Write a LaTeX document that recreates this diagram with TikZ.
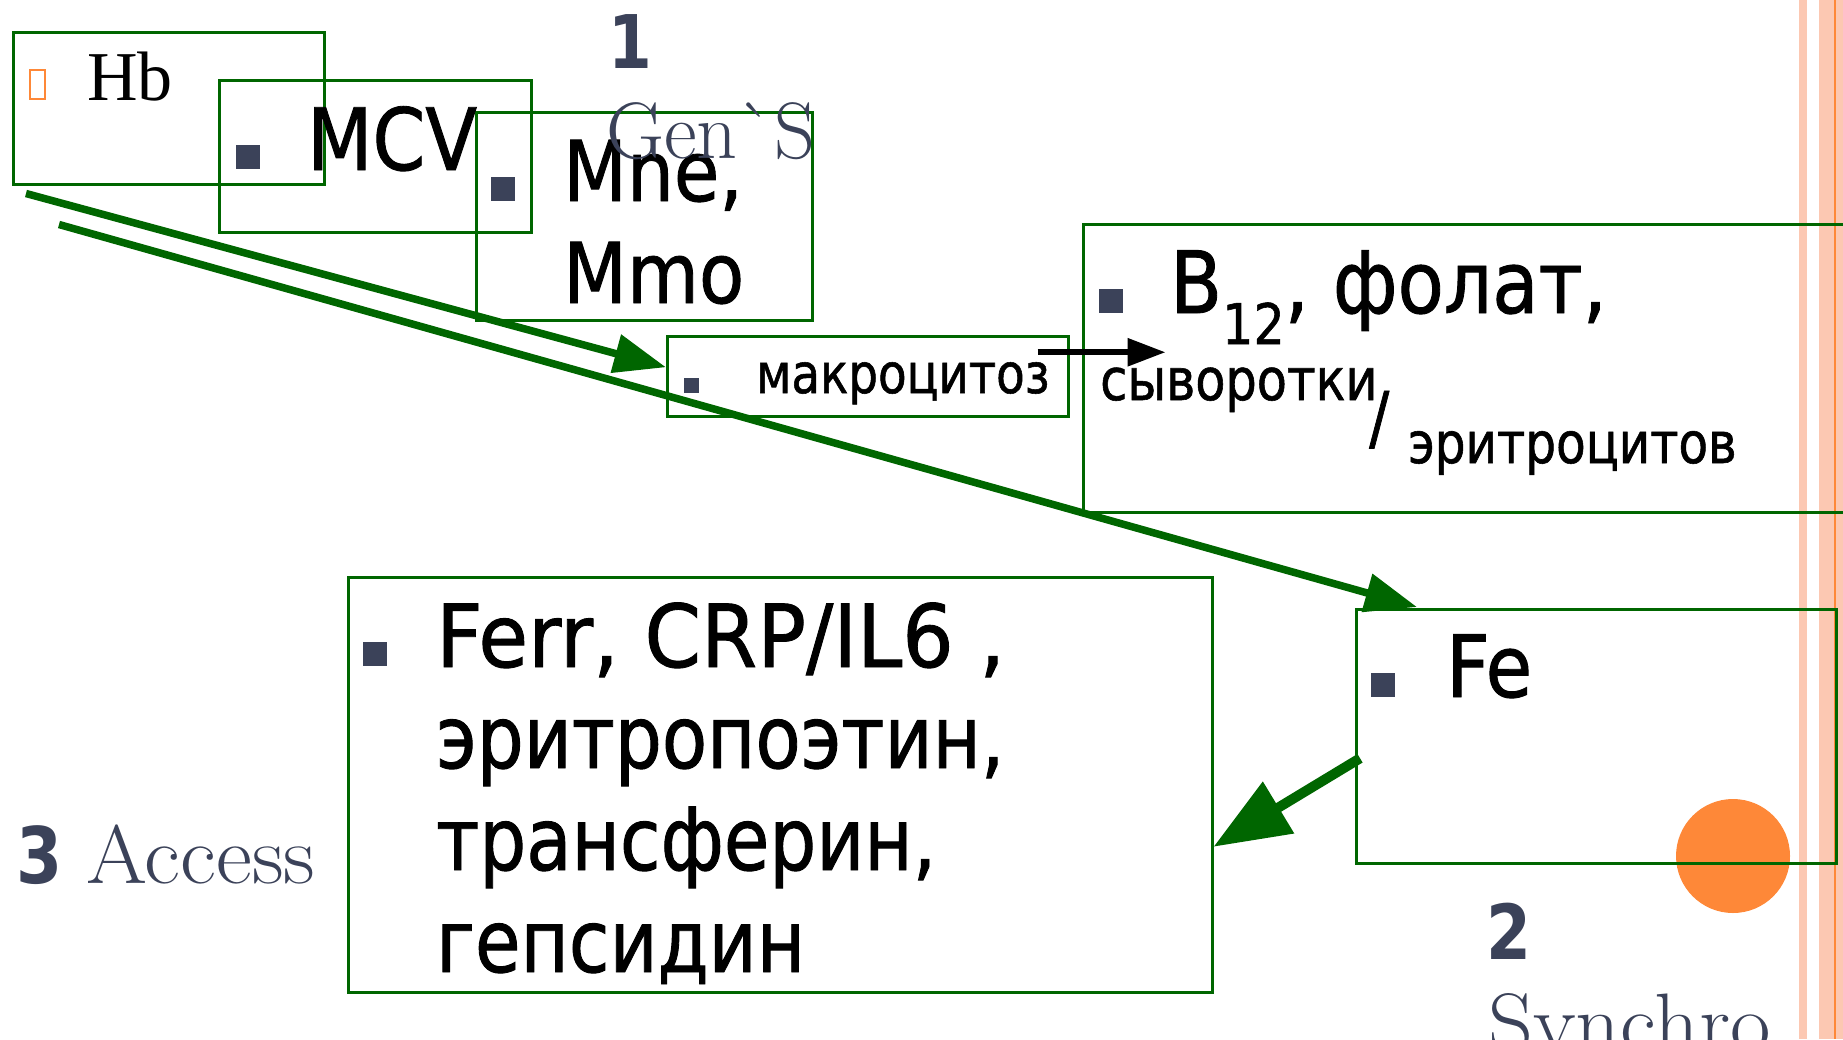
\documentclass[tikz,border=0pt]{standalone}
\usepackage{fontspec}
\usetikzlibrary{arrows.meta,calc}
\newfontfamily\tah[FakeStretch=0.85,FakeBold=1]{DejaVu Sans}
\newfontfamily\tahl[FakeStretch=0.88,FakeBold=1]{DejaVu Sans}
\newfontfamily\tahw[FakeStretch=0.93,FakeBold=1]{DejaVu Sans}
\newfontfamily\tahb[FakeStretch=0.85]{DejaVu Sans Bold}
\newfontfamily\tms{Liberation Serif}
\newfontfamily\lmr{Latin Modern Roman}
\newfontfamily\lmrw[FakeStretch=1.06]{Latin Modern Roman}
\newcommand\fsz[1]{\fontsize{#1}{#1}\selectfont}
\definecolor{boxgreen}{RGB}{0,102,0}
\definecolor{navy}{RGB}{59,66,89}
\definecolor{salmon}{RGB}{252,200,178}
\definecolor{orng}{RGB}{254,136,56}
\tikzset{
  box/.style={draw=boxgreen, line width=2.5pt, inner sep=0pt, anchor=north west},
  bul/.style={fill=navy, inner sep=0pt, anchor=north west, minimum width=24pt, minimum height=24pt},
  txt/.style={inner sep=0pt, anchor=base west, text=black},
  lbl/.style={inner sep=0pt, anchor=base west, text=navy},
  garrow/.style={draw=boxgreen, line width=7.5pt, -{Triangle[length=52pt,width=38pt]}},
  garrowbig/.style={draw=boxgreen, line width=10pt, -{Triangle[length=76pt,width=58pt]}},
  barrow/.style={draw=black, line width=6pt, -{Triangle[length=38pt,width=27pt]}},
}
\begin{document}
\begin{tikzpicture}[x=1pt,y=-1pt]
\useasboundingbox (0,0) rectangle (1843,1039);
\clip (0,0) rectangle (1843,1039);
% right-hand stripes
\fill[salmon] (1799,0) rectangle (1807,1039);
\fill[salmon] (1819,0) rectangle (1843,1039);
\fill[orng] (1833.5,0) rectangle (1836,1039);
% orange dot
\node[circle, fill=orng, minimum size=114pt, inner sep=0pt] (dot) at (1733,856) {};

% boxes
\node[box, minimum width=311pt, minimum height=152pt] (hb) at (12,31) {};
\node[box, minimum width=312pt, minimum height=152pt] (mcv) at (218,79) {};
\node[box, minimum width=336pt, minimum height=208pt] (mne) at (475,111) {};
\node[box, minimum width=401pt, minimum height=80pt] (makro) at (666,335) {};
\node[box, minimum width=790pt, minimum height=288pt] (b12) at (1082,223) {};
\node[box, minimum width=480pt, minimum height=254pt] (fe) at (1355,608) {};
\node[box, minimum width=864pt, minimum height=415pt] (ferr) at (347,576) {};

% bullets
\node[draw=orng, line width=2pt, inner sep=0pt, anchor=north west, minimum width=15pt, minimum height=29pt] (hbbul) at (29,69) {};
\node[bul] (mcvbul) at (236,145) {};
\node[bul] (mnebul) at (491,177) {};
\node[bul, minimum width=15pt, minimum height=15pt] (makrobul) at (684,378) {};
\node[bul] (b12bul) at (1099,289) {};
\node[bul] (febul) at (1371,673) {};
\node[bul] (ferrbul) at (363,642) {};

% texts
\node[txt, font=\tms\fsz{70}] (hbt) at (87,100) {Hb};
\node[txt, font=\tahl\fsz{86}] (mcvt) at (307,170) {MCV};
\node[txt, font=\tahl\fsz{84}] (mnet) at (563,201) {Mne,};
\node[txt, font=\tahl\fsz{84}] (mmot) at (563,303) {Mmo};
\node[txt, font=\tah\fsz{55}] (makrot) at (756,393) {макроцитоз};
\node[txt, font=\tahl\fsz{86}] (b12t) at (1170,313) {B\raisebox{-31pt}{\fsz{56}12}, фолат,};
\node[txt, font=\tah\fsz{58}] (syvt) at (1100,400) {сыворотки};
\node[txt, font=\tah\fsz{70}] (slasht) at (1369,442) {/};
\node[txt, font=\tah\fsz{57}] (eritt) at (1408,463) {эритроцитов};
\node[txt, font=\tahl\fsz{86}] (fet) at (1446,697) {Fe};
\node[txt, font=\tahw\fsz{87}] (ferr1) at (436,667) {Ferr, CRP/IL6 ,};
\node[txt, font=\tah\fsz{87}] (ferr2) at (436,768) {эритропоэтин,};
\node[txt, font=\tah\fsz{87}] (ferr3) at (436,870) {трансферин,};
\node[txt, font=\tah\fsz{87}] (ferr4) at (436,972) {гепсидин};

% labels
\node[lbl, font=\tahb\fsz{74}] (n1) at (608,68) {1};
\node[lbl, font=\lmr\fsz{80}] (gens) at (606,158) {Gen{\char"0060}S};
\node[lbl, font=\tahb\fsz{78}] (n3) at (16,883) {3};
\node[lbl, font=\lmrw\fsz{83}] (access) at (86,883) {Access};
\node[lbl, font=\tahb\fsz{76}] (n2) at (1486,959) {2};
\node[lbl, font=\lmrw\fsz{83}] (synchro) at (1488,1051) {Synchro};

% connectors
\draw[garrow] ($(hb.south west)+(14,8)$) -- ($(makro.west)+(0,-9)$);
\draw[garrow] ($(hb.south west)+(47,39)$) -- ($(fe.north west)+(62,-1)$);
\draw[garrowbig] ($(fe.west)+(5,22)$) -- ($(ferr.east)+(0,62)$);
\draw[barrow] ($(makro.east)+(-32,-24)$) -- ($(makro.east)+(96,-24)$);
\end{tikzpicture}
\end{document}
